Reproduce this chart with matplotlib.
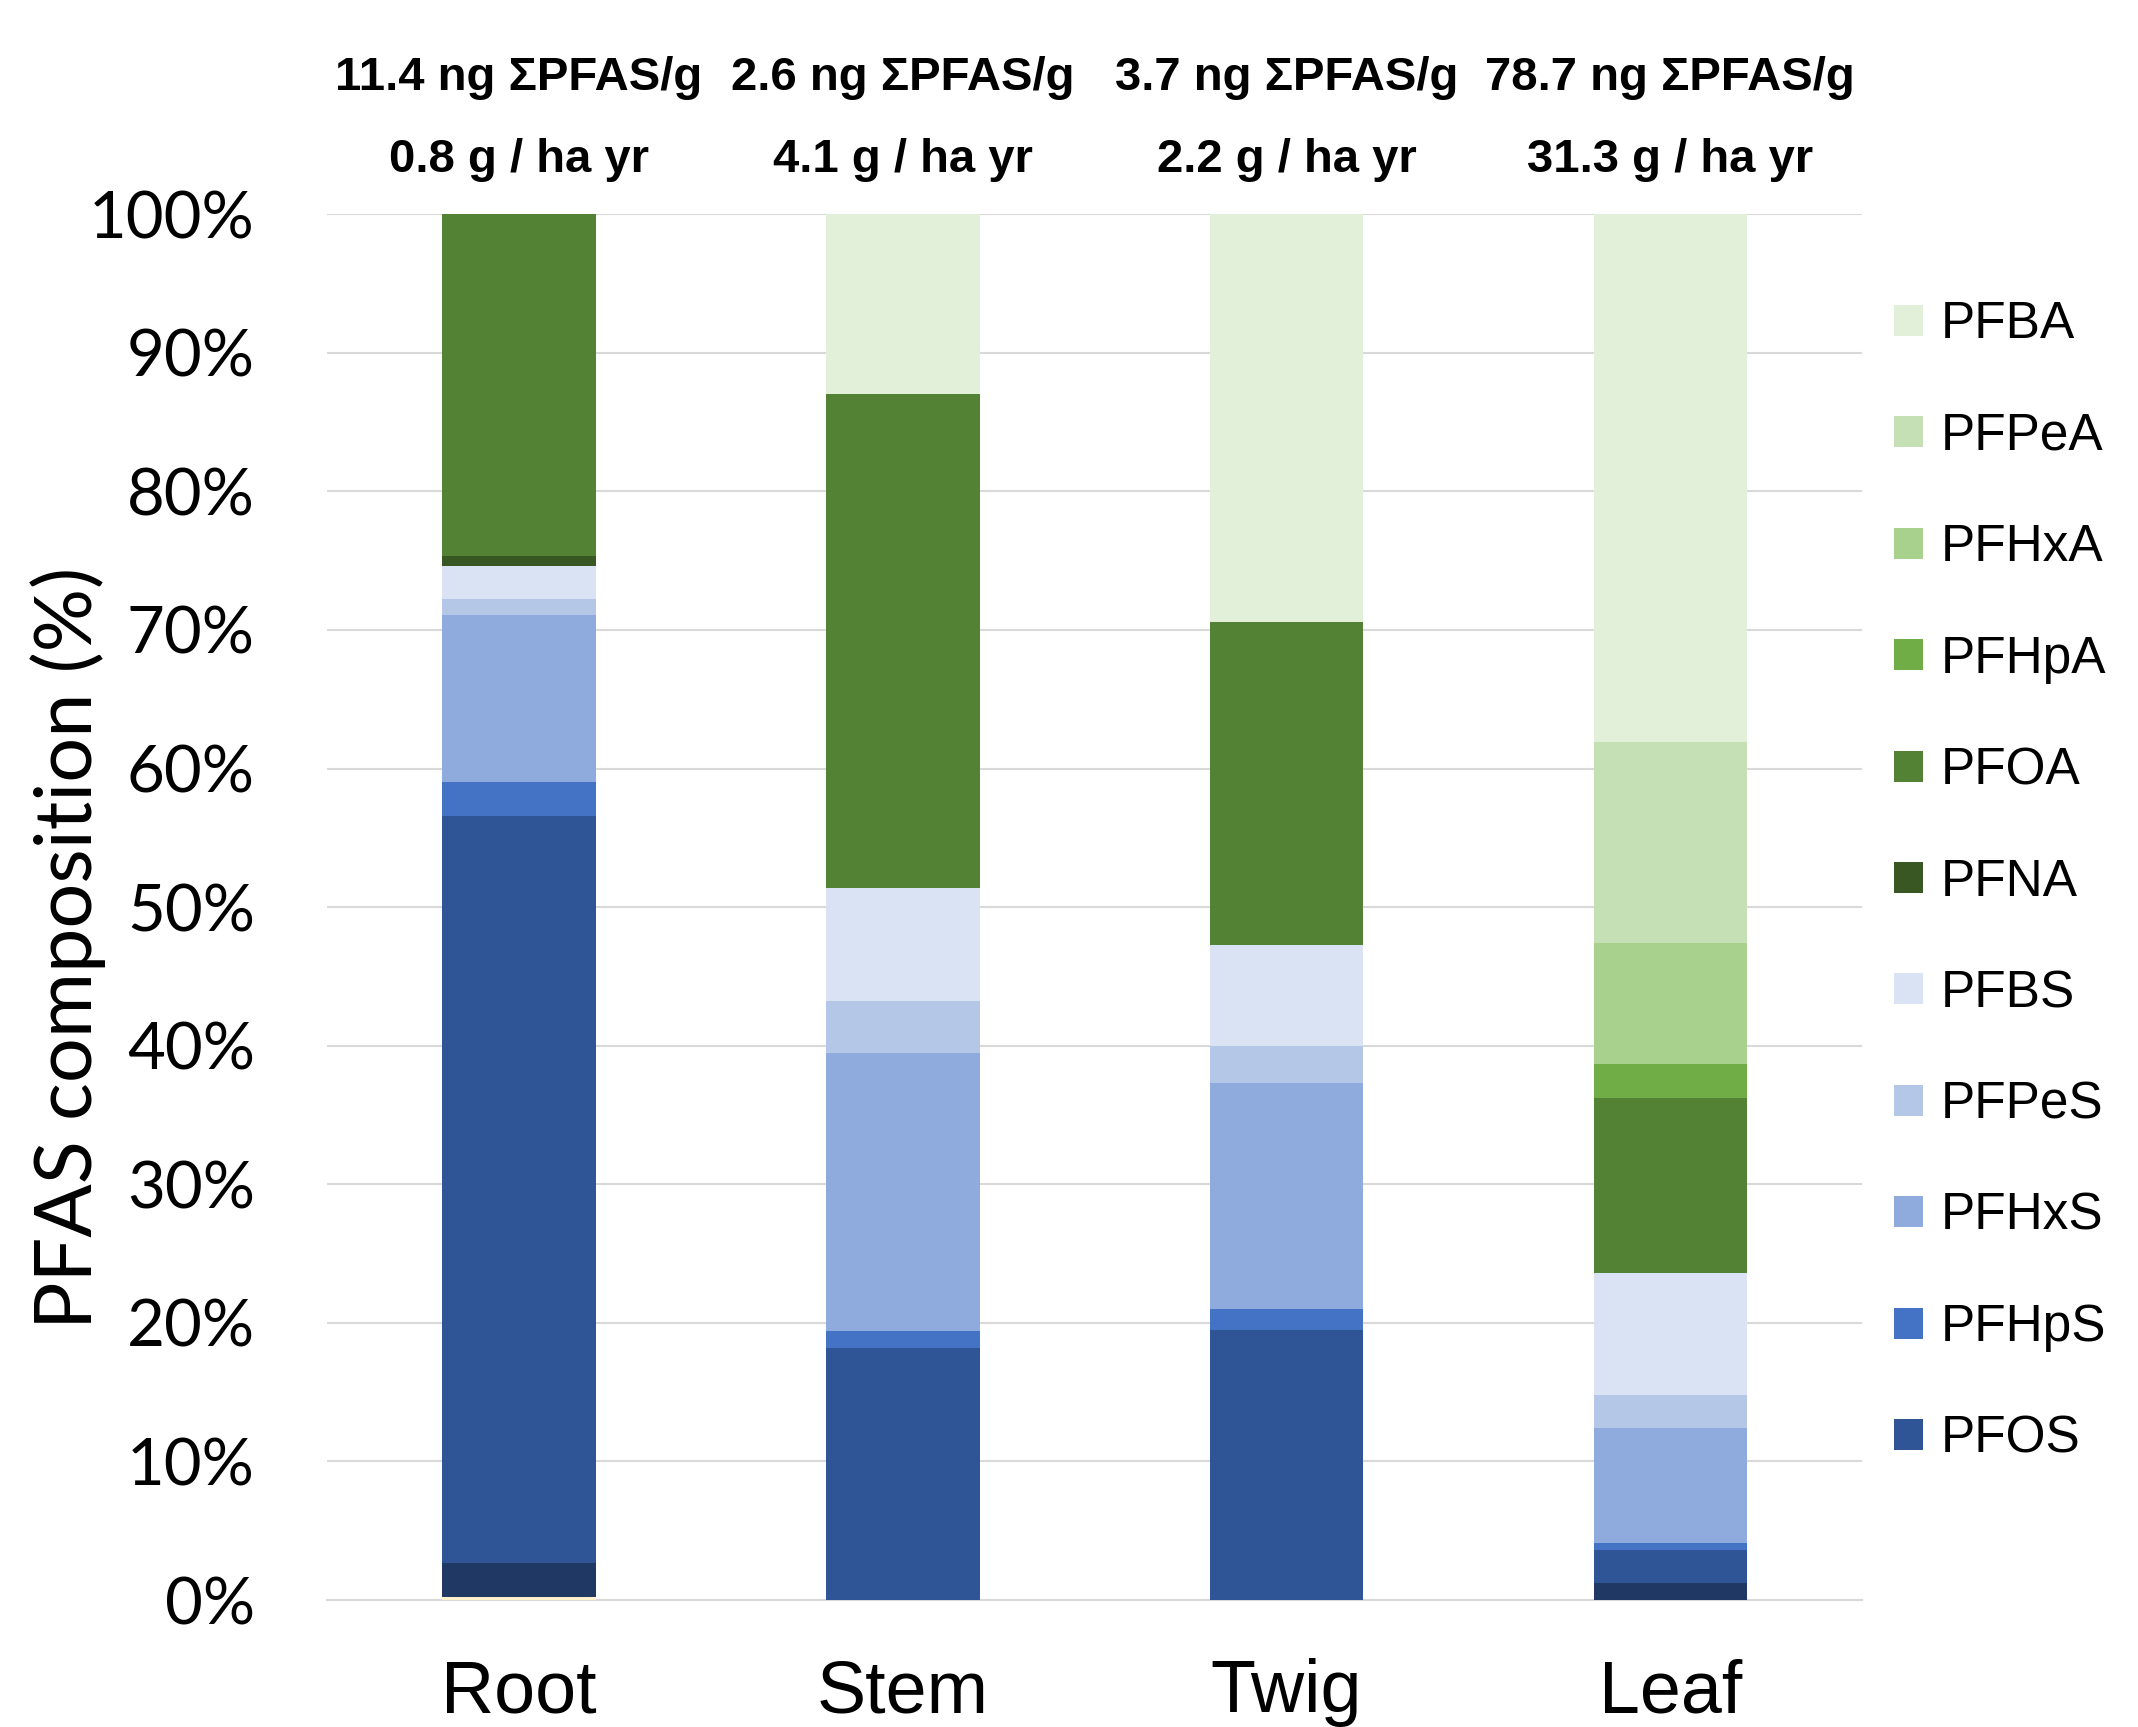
import matplotlib.pyplot as plt
from matplotlib.patches import Patch
import numpy as np

plt.rcParams['font.family'] = ['Lato', 'DejaVu Sans']

# data: percent composition of each compartment, bottom segment first
tissues = ['Root', 'Stem', 'Twig', 'Leaf']
conc_labels = ['11.4 ng ΣPFAS/g', '2.6 ng ΣPFAS/g', '3.7 ng ΣPFAS/g', '78.7 ng ΣPFAS/g']
flux_labels = ['0.8 g / ha yr', '4.1 g / ha yr', '2.2 g / ha yr', '31.3 g / ha yr']

other_a = [0.2, 0.0, 0.0, 0.0]   # not shown in legend
other_b = [2.5, 0.0, 0.0, 1.2]   # not shown in legend
PFOS = [53.9, 18.2, 19.5, 2.4]
PFHpS = [2.4, 1.2, 1.5, 0.5]
PFHxS = [12.1, 20.1, 16.3, 8.3]
PFPeS = [1.1, 3.7, 2.7, 2.4]
PFBS = [2.4, 8.2, 7.3, 8.8]
PFNA = [0.7, 0.0, 0.0, 0.0]
PFOA = [24.7, 35.6, 23.3, 12.6]
PFHpA = [0.0, 0.0, 0.0, 2.5]
PFHxA = [0.0, 0.0, 0.0, 8.7]
PFPeA = [0.0, 0.0, 0.0, 14.5]
PFBA = [0.0, 13.0, 29.4, 38.1]

series = [
    ('_other_a', other_a, '#FFF2CC'),
    ('_other_b', other_b, '#1F3864'),
    ('PFOS', PFOS, '#2F5597'),
    ('PFHpS', PFHpS, '#4472C4'),
    ('PFHxS', PFHxS, '#8FAADC'),
    ('PFPeS', PFPeS, '#B4C7E7'),
    ('PFBS', PFBS, '#DAE3F3'),
    ('PFNA', PFNA, '#385723'),
    ('PFOA', PFOA, '#548235'),
    ('PFHpA', PFHpA, '#70AD47'),
    ('PFHxA', PFHxA, '#A9D18E'),
    ('PFPeA', PFPeA, '#C5E0B4'),
    ('PFBA', PFBA, '#E2F0D9'),
]

fig = plt.figure(figsize=(21.38, 17.27), dpi=100)
ax = fig.add_axes([0.153, 0.0735, 0.718, 0.8025])

x = np.arange(len(tissues))
bottom = np.zeros(len(tissues))
for name, vals, col in series:
    vals = np.array(vals)
    ax.bar(x, vals, 0.4, bottom=bottom, color=col, edgecolor='none', zorder=3)
    bottom += vals

ax.set_xlim(-0.5, 3.5)
ax.set_ylim(0, 100)
ax.set_yticks(np.arange(0, 101, 10))
ax.set_yticklabels([f'{v}%' for v in range(0, 101, 10)])
ax.set_xticks(x)
ax.set_xticklabels(tissues, family='Liberation Sans')
ax.tick_params(axis='y', length=0, pad=52, labelsize=47)
ax.tick_params(axis='x', length=0, pad=42, labelsize=53)
ax.grid(axis='y', color='#D9D9D9', linewidth=1.5, zorder=0)
for s in ['top', 'right', 'left']:
    ax.spines[s].set_visible(False)
ax.spines['bottom'].set_color('#D9D9D9')
ax.spines['bottom'].set_linewidth(1.5)

fig.text(0.032, 0.451, 'PFAS composition (%)', rotation=90, ha='center', va='center', fontsize=57)

for i in range(len(tissues)):
    ax.text(x[i], 1.098, conc_labels[i], transform=ax.get_xaxis_transform(),
            ha='center', va='center', fontsize=34, fontweight='bold', family='Liberation Sans')
    ax.text(x[i], 1.039, flux_labels[i], transform=ax.get_xaxis_transform(),
            ha='center', va='center', fontsize=34, fontweight='bold', family='Liberation Sans')

handles = [Patch(facecolor=col, label=name) for name, vals, col in series[::-1] if not name.startswith('_')]
fig.legend(handles=handles, loc='upper left', bbox_to_anchor=(0.886, 0.826), frameon=False,
           prop={'family': 'Liberation Sans', 'size': 37}, handlelength=0.55, handleheight=0.55,
           handletextpad=0.35, labelspacing=1.215, borderpad=0, borderaxespad=0)

fig.savefig('out.png', dpi=100)
